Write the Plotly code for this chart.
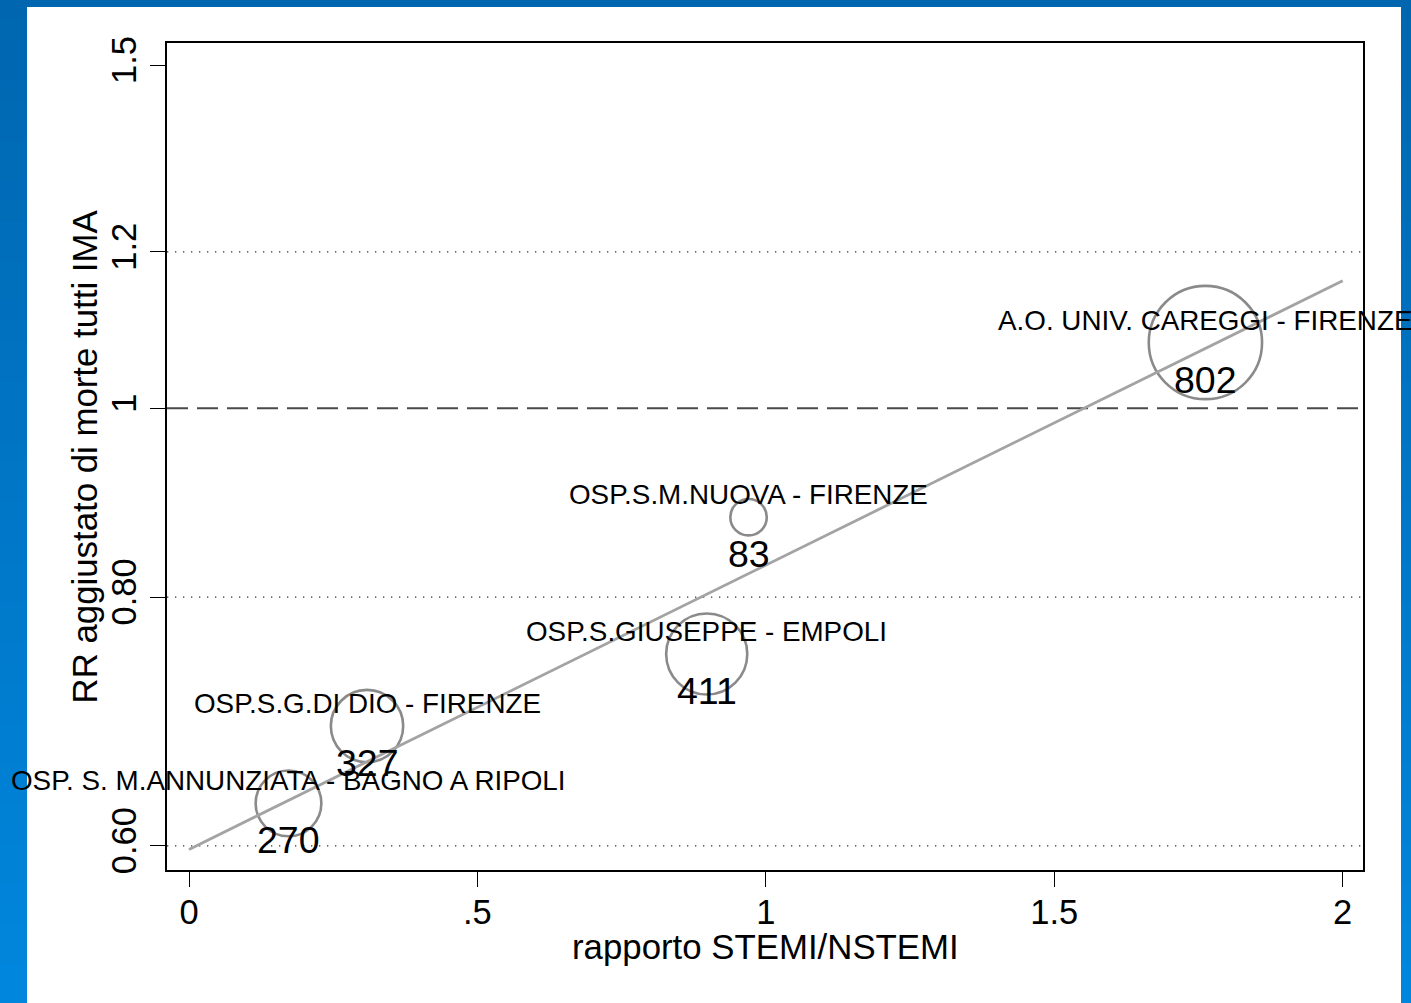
import numpy as np
import plotly.graph_objects as go

# ---------------- data ----------------
hospitals = [
    "OSP. S. M.ANNUNZIATA - BAGNO A RIPOLI",
    "OSP.S.G.DI DIO - FIRENZE",
    "OSP.S.GIUSEPPE - EMPOLI",
    "OSP.S.M.NUOVA - FIRENZE",
    "A.O. UNIV. CAREGGI - FIRENZE",
]
ratio_stemi_nstemi = [0.1725, 0.3086, 0.8975, 0.970, 1.762]
rr_adjusted = [0.631, 0.6905, 0.751, 0.8808, 1.0797]
n_cases = [270, 327, 411, 83, 802]

fit_x = [0.0, 2.0]
fit_rr = [0.598, 1.1603]

x_tick_vals = [0, 0.5, 1, 1.5, 2]
x_tick_text = ["0", ".5", "1", "1.5", "2"]
# tick positions as placed in the original (log scale)
y_tick_vals = [float(np.exp(-0.51)), float(np.exp(-0.22)), 1.0, 1.2, float(np.exp(0.40))]
y_tick_text = ["0.60", "0.80", "1", "1.2", "1.5"]
dotted_lines = [y_tick_vals[0], y_tick_vals[1], y_tick_vals[3]]
dashed_line = 1.0

FONT = "Liberation Sans, Arial, sans-serif"
W, H = 1411, 1003
ML, MR, MT, MB = 167, 48, 43, 133
PW, PH = W - ML - MR, H - MT - MB


def px_to_paper_x(px):
    return (px - ML) / PW


def px_to_paper_y(py):
    return (H - MB - py) / PH


fig = go.Figure()

# bubbles
fig.add_trace(go.Scatter(
    x=ratio_stemi_nstemi, y=rr_adjusted, mode="markers",
    marker=dict(size=n_cases, sizemode="area", sizeref=0.125,
                color="rgba(0,0,0,0)",
                line=dict(color="#5a5a5a", width=2.6)),
    hoverinfo="skip", showlegend=False, cliponaxis=False,
))

# fitted line
fig.add_trace(go.Scatter(
    x=fit_x, y=fit_rr, mode="lines",
    line=dict(color="#a3a3a3", width=2.8),
    hoverinfo="skip", showlegend=False, cliponaxis=False,
))

shapes = []
# background gradient (blue frame)
top_rgb = np.array([0x00, 0x66, 0xB0])
bot_rgb = np.array([0x00, 0x87, 0xDD])
n_strips = 50
for i in range(n_strips):
    t = (i + 0.5) / n_strips
    c = (top_rgb + (bot_rgb - top_rgb) * t).round().astype(int)
    y0 = H * i / n_strips
    y1 = H * (i + 1) / n_strips + 1
    shapes.append(dict(type="rect", xref="paper", yref="paper", layer="below",
                       x0=px_to_paper_x(0), x1=px_to_paper_x(W),
                       y0=px_to_paper_y(y1), y1=px_to_paper_y(y0),
                       line=dict(width=0),
                       fillcolor=f"rgb({c[0]},{c[1]},{c[2]})"))
# white panel
shapes.append(dict(type="rect", xref="paper", yref="paper", layer="below",
                   x0=px_to_paper_x(27), x1=px_to_paper_x(1401),
                   y0=px_to_paper_y(H + 5), y1=px_to_paper_y(7),
                   line=dict(width=0), fillcolor="white"))
# reference lines
for yv in dotted_lines:
    shapes.append(dict(type="line", xref="paper", yref="y", layer="below",
                       x0=0, x1=1, y0=yv, y1=yv,
                       line=dict(color="#333333", width=1.3, dash="1.3px,6.7px")))
shapes.append(dict(type="line", xref="paper", yref="y", layer="below",
                   x0=0, x1=1, y0=dashed_line, y1=dashed_line,
                   line=dict(color="#4a4a4a", width=2, dash="21px,9px")))

annotations = []
for name, xv, yv, n in zip(hospitals, ratio_stemi_nstemi, rr_adjusted, n_cases):
    ylog = float(np.log10(yv))  # annotations on log axes use log10 units
    annotations.append(dict(x=xv, y=ylog, xref="x", yref="y", text=name,
                            showarrow=False, xanchor="center", yanchor="middle",
                            yshift=22.5, font=dict(family=FONT, size=27.8, color="black")))
    annotations.append(dict(x=xv, y=ylog, xref="x", yref="y", text=str(n),
                            showarrow=False, xanchor="center", yanchor="middle",
                            yshift=-37, font=dict(family=FONT, size=37.5, color="black")))

# axis titles
annotations.append(dict(x=0.5, y=0, xref="paper", yref="paper",
                        text="rapporto STEMI/NSTEMI", showarrow=False,
                        xanchor="center", yanchor="middle", yshift=-76,
                        font=dict(family=FONT, size=34.8, color="black")))
annotations.append(dict(x=0, y=0.5, xref="paper", yref="paper",
                        text="RR aggiustato di morte tutti IMA", showarrow=False,
                        textangle=-90, xanchor="center", yanchor="middle", xshift=-83,
                        font=dict(family=FONT, size=34.8, color="black")))

x_lo = -22 / 576.85
x_hi = x_lo + PW / 576.85
y_top_ln = (408.3 - MT) / 858.0
y_bot_ln = (408.3 - (H - MB)) / 858.0

fig.update_layout(
    width=W, height=H,
    margin=dict(l=ML, r=MR, t=MT, b=MB, pad=0),
    paper_bgcolor="white", plot_bgcolor="white",
    font=dict(family=FONT, color="black"),
    shapes=shapes, annotations=annotations,
    xaxis=dict(range=[x_lo, x_hi], tickmode="array", tickvals=x_tick_vals,
               ticktext=x_tick_text, ticks="outside", ticklen=15, tickwidth=1.3,
               tickcolor="black", showgrid=False, zeroline=False,
               showline=True, linecolor="black", linewidth=2, mirror=True,
               ticklabelstandoff=-4,
               tickfont=dict(family=FONT, size=34.5, color="black")),
    yaxis=dict(type="log", range=[y_bot_ln / np.log(10), y_top_ln / np.log(10)],
               tickmode="array", tickvals=y_tick_vals, ticktext=y_tick_text,
               tickangle=-90, ticks="outside", ticklen=15, tickwidth=1.3,
               tickcolor="black", showgrid=False, zeroline=False,
               showline=True, linecolor="black", linewidth=2, mirror=True,
               tickfont=dict(family=FONT, size=34.5, color="black")),
    showlegend=False,
)

fig.write_html("out.html")
